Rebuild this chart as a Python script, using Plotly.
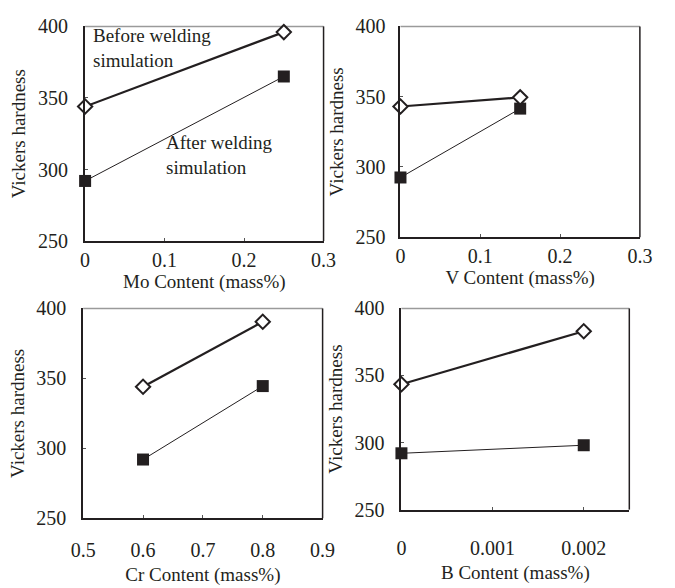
import plotly.graph_objects as go

W, H = 675, 588

# ---- data ----
mo_x = [0, 0.25]
mo_before = [344, 396]
mo_after = [292, 365]

v_x = [0, 0.15]
v_before = [343, 349.5]
v_after = [292.5, 341.5]

cr_x = [0.6, 0.8]
cr_before = [344, 390.5]
cr_after = [292, 344.5]

b_x = [0, 0.002]
b_before = [343.5, 383]
b_after = [292, 298]

x_titles = ["Mo Content (mass%)", "V Content (mass%)", "Cr Content (mass%)", "B Content (mass%)"]
y_title = "Vickers hardness"
y_ticks = [250, 300, 350, 400]
x_tick_sets = [
    [0, 0.1, 0.2, 0.3],
    [0, 0.1, 0.2, 0.3],
    [0.5, 0.6, 0.7, 0.8, 0.9],
    [0, 0.001, 0.002],
]
x_tick_text = [
    ["0", "0.1", "0.2", "0.3"],
    ["0", "0.1", "0.2", "0.3"],
    ["0.5", "0.6", "0.7", "0.8", "0.9"],
    ["0", "0.001", "0.002"],
]
x_ranges = [[0, 0.3], [0, 0.3], [0.5, 0.9], [0, 0.0025]]

panels = [
    (mo_x, mo_before, mo_after),
    (v_x, v_before, v_after),
    (cr_x, cr_before, cr_after),
    (b_x, b_before, b_after),
]

# plot-area boxes in pixels (left, right, top, bottom)
boxes = [
    (75, 323, 16, 239),
    (403, 652, 16, 235),
    (73, 322, 309, 527),
    (404, 641, 309, 518),
]
label_standoff = [0, 0, 13, 19]
title_standoff = [0, 0, 7, 8]
ylabel_standoff = [11, 9, 11, 11]

FONT = "Liberation Serif, Times New Roman, serif"
INK = "#231f20"

fig = go.Figure()
shapes = []
layout = dict(
    width=W, height=H,
    margin=dict(l=0, r=0, t=0, b=0),
    paper_bgcolor="white", plot_bgcolor="white",
    showlegend=False,
    font=dict(family=FONT, size=18, color=INK),
)

for i, (xs, before, after) in enumerate(panels):
    n = "" if i == 0 else str(i + 1)
    xa, ya = "x" + n, "y" + n
    fig.add_trace(go.Scatter(
        x=xs, y=after, xaxis=xa, yaxis=ya, mode="lines+markers",
        line=dict(color=INK, width=1),
        marker=dict(symbol="square", size=12, color=INK, line=dict(width=0)),
        cliponaxis=False,
    ))
    fig.add_trace(go.Scatter(
        x=xs, y=before, xaxis=xa, yaxis=ya, mode="lines+markers",
        line=dict(color=INK, width=2.2),
        marker=dict(symbol="diamond", size=11, color="white",
                    line=dict(width=2, color=INK)),
        cliponaxis=False,
    ))
    l, r, t, b = boxes[i]
    common = dict(showgrid=False, zeroline=False, showline=True,
                  linecolor=INK, linewidth=2, ticks="inside",
                  ticklen=3, tickwidth=1, tickcolor="#555",
                  tickfont=dict(family=FONT, size=20, color=INK))
    layout["xaxis" + n] = dict(
        domain=[l / W, r / W], anchor=ya, range=x_ranges[i],
        tickvals=x_tick_sets[i], ticktext=x_tick_text[i],
        ticklabelstandoff=label_standoff[i],
        title=dict(text=x_titles[i], font=dict(family=FONT, size=19, color=INK),
                   standoff=title_standoff[i]),
        **common)
    layout["yaxis" + n] = dict(
        domain=[1 - b / H, 1 - t / H], anchor=xa, range=[250, 400],
        tickvals=y_ticks, ticklabelstandoff=ylabel_standoff[i],
        title=dict(text=y_title, font=dict(family=FONT, size=19, color=INK),
                   standoff=7),
        **common)
    # top border (gray) and right border (dark)
    shapes.append(dict(type="line", xref=xa + " domain", yref=ya + " domain",
                       x0=0, x1=1, y0=1, y1=1, line=dict(color="#9a9a9a", width=1.5),
                       layer="below"))
    shapes.append(dict(type="line", xref=xa + " domain", yref=ya + " domain",
                       x0=1, x1=1, y0=0, y1=1, line=dict(color=INK, width=1.5),
                       layer="below"))

layout["shapes"] = shapes

ann_font = dict(family=FONT, size=19, color=INK)
annotations = [
    dict(text="Before welding<br>simulation", x=81 / W, y=1 - 38 / H),
    dict(text="After welding<br>simulation", x=157 / W, y=1 - 150 / H),
]
layout["annotations"] = [
    dict(a, xref="paper", yref="paper", xanchor="left", yanchor="middle",
         align="left", showarrow=False, font=ann_font) for a in annotations
]

fig.update_layout(**layout)
fig.write_html("out.html")
